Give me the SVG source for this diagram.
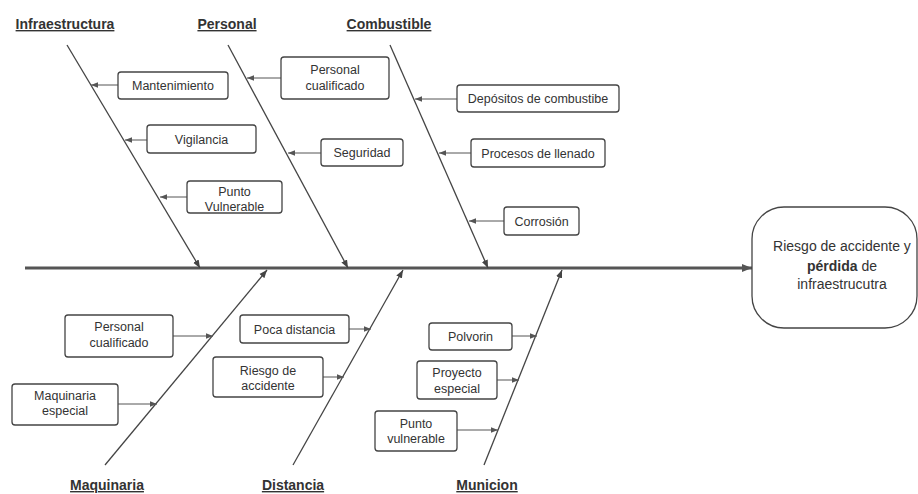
<svg xmlns="http://www.w3.org/2000/svg" width="918" height="494" viewBox="0 0 918 494">
<style>
text{font-family:"Liberation Sans",Arial,sans-serif;fill:#333;text-anchor:middle}
.bt{font-size:12.5px}
.ti{font-size:14px;font-weight:bold;text-decoration:underline}
.bx{fill:#fff;stroke:#444;stroke-width:1.3}
.br{stroke:#444;stroke-width:1.3;fill:none}
.sa{stroke:#555;stroke-width:1;fill:none}
</style>
<defs>
<marker id="ah" viewBox="0 0 10 10" refX="10" refY="5" markerWidth="8" markerHeight="8" markerUnits="userSpaceOnUse" orient="auto"><path d="M0,1 L10,5 L0,9 z" fill="#444"/></marker>
<marker id="as" viewBox="0 0 10 10" refX="10" refY="5" markerWidth="8" markerHeight="7" markerUnits="userSpaceOnUse" orient="auto"><path d="M0,1 L10,5 L0,9 z" fill="#555"/></marker>
<marker id="am" viewBox="0 0 10 10" refX="10" refY="5" markerWidth="12" markerHeight="10" markerUnits="userSpaceOnUse" orient="auto"><path d="M0,1 L10,5 L0,9 z" fill="#555"/></marker>
</defs>
<g id="connectors">
<line x1="25" y1="268" x2="752" y2="268" stroke="#555" stroke-width="3" marker-end="url(#am)"/>
<line class="br" x1="67" y1="45" x2="200" y2="268" marker-end="url(#ah)"/>
<line class="br" x1="228" y1="45" x2="348" y2="268" marker-end="url(#ah)"/>
<line class="br" x1="390" y1="45" x2="488" y2="268" marker-end="url(#ah)"/>
<line class="br" x1="105" y1="465" x2="267" y2="270" marker-end="url(#ah)"/>
<line class="br" x1="293" y1="465" x2="403" y2="270" marker-end="url(#ah)"/>
<line class="br" x1="484" y1="465" x2="562" y2="270" marker-end="url(#ah)"/>
<line class="sa" x1="118" y1="85" x2="91" y2="85" marker-end="url(#as)"/>
<line class="sa" x1="281" y1="78" x2="247" y2="78" marker-end="url(#as)"/>
<line class="sa" x1="147" y1="140" x2="125" y2="140" marker-end="url(#as)"/>
<line class="sa" x1="321" y1="153" x2="288" y2="153" marker-end="url(#as)"/>
<line class="sa" x1="187" y1="197" x2="160" y2="197" marker-end="url(#as)"/>
<line class="sa" x1="457" y1="99" x2="415" y2="99" marker-end="url(#as)"/>
<line class="sa" x1="471" y1="153" x2="439" y2="153" marker-end="url(#as)"/>
<line class="sa" x1="504" y1="221" x2="469" y2="221" marker-end="url(#as)"/>
<line class="sa" x1="173" y1="336" x2="213" y2="336" marker-end="url(#as)"/>
<line class="sa" x1="118" y1="404" x2="157" y2="404" marker-end="url(#as)"/>
<line class="sa" x1="349" y1="329" x2="371" y2="329" marker-end="url(#as)"/>
<line class="sa" x1="323" y1="377" x2="344" y2="377" marker-end="url(#as)"/>
<line class="sa" x1="512" y1="336" x2="537" y2="336" marker-end="url(#as)"/>
<line class="sa" x1="497" y1="380" x2="519" y2="380" marker-end="url(#as)"/>
<line class="sa" x1="457" y1="430" x2="498" y2="430" marker-end="url(#as)"/>
</g>
<g id="t-infra"><text class="ti" x="65" y="29">Infraestructura</text></g>
<g id="t-personal"><text class="ti" x="227" y="29">Personal</text></g>
<g id="t-combustible"><text class="ti" x="389" y="29">Combustible</text></g>
<g id="t-maquinaria"><text class="ti" x="107" y="490">Maquinaria</text></g>
<g id="t-distancia"><text class="ti" x="293" y="490">Distancia</text></g>
<g id="t-municion"><text class="ti" x="487" y="490">Municion</text></g>
<g id="effect"><rect x="752" y="207" width="165" height="121" rx="32" ry="32" fill="#fff" stroke="#444" stroke-width="1.3"/>
<text x="842" y="251" style="font-size:14px">Riesgo de accidente y</text>
<text x="842" y="271" style="font-size:14px"><tspan font-weight="bold">pérdida</tspan> de</text>
<text x="842" y="289" style="font-size:14px">infraestrucutra</text></g>
<g id="n-mantenimiento"><rect class="bx" x="118" y="72" width="110" height="27" rx="3"/><text class="bt" x="173" y="90">Mantenimiento</text></g>
<g id="n-personal-cual-top"><rect class="bx" x="281" y="57" width="108" height="42" rx="3"/><text class="bt" x="335" y="74">Personal</text><text class="bt" x="335" y="90">cualificado</text></g>
<g id="n-vigilancia"><rect class="bx" x="147" y="125" width="109" height="28" rx="3"/><text class="bt" x="201.5" y="143.5">Vigilancia</text></g>
<g id="n-seguridad"><rect class="bx" x="321" y="139" width="82" height="27" rx="3"/><text class="bt" x="362" y="157">Seguridad</text></g>
<g id="n-punto-vulnerable-top"><rect class="bx" x="187" y="181" width="95" height="32" rx="3"/><text class="bt" x="234.5" y="195.5">Punto</text><text class="bt" x="234.5" y="211">Vulnerable</text></g>
<g id="n-depositos"><rect class="bx" x="457" y="85" width="162" height="27" rx="3"/><text class="bt" x="538" y="103">Depósitos de combustibe</text></g>
<g id="n-procesos"><rect class="bx" x="471" y="139" width="134" height="28" rx="3"/><text class="bt" x="538" y="157.5">Procesos de llenado</text></g>
<g id="n-corrosion"><rect class="bx" x="504" y="207" width="75" height="28" rx="3"/><text class="bt" x="541.5" y="225.5">Corrosión</text></g>
<g id="n-personal-cual-bot"><rect class="bx" x="65" y="315" width="108" height="42" rx="3"/><text class="bt" x="119" y="331">Personal</text><text class="bt" x="119" y="347">cualificado</text></g>
<g id="n-maquinaria-especial"><rect class="bx" x="12" y="384" width="106" height="41" rx="3"/><text class="bt" x="65" y="399.5">Maquinaria</text><text class="bt" x="65" y="415">especial</text></g>
<g id="n-poca-distancia"><rect class="bx" x="240" y="315" width="109" height="28" rx="3"/><text class="bt" x="294.5" y="333.5">Poca distancia</text></g>
<g id="n-riesgo-accidente"><rect class="bx" x="213" y="357" width="110" height="40" rx="3"/><text class="bt" x="268" y="374.5">Riesgo de</text><text class="bt" x="268" y="389.5">accidente</text></g>
<g id="n-polvorin"><rect class="bx" x="429" y="323" width="83" height="27" rx="3"/><text class="bt" x="470.5" y="341">Polvorin</text></g>
<g id="n-proyecto-especial"><rect class="bx" x="417" y="361" width="80" height="38" rx="3"/><text class="bt" x="457" y="376.5">Proyecto</text><text class="bt" x="457" y="393">especial</text></g>
<g id="n-punto-vulnerable-bot"><rect class="bx" x="375" y="411" width="82" height="40" rx="3"/><text class="bt" x="416" y="427.5">Punto</text><text class="bt" x="416" y="442.5">vulnerable</text></g>
</svg>
